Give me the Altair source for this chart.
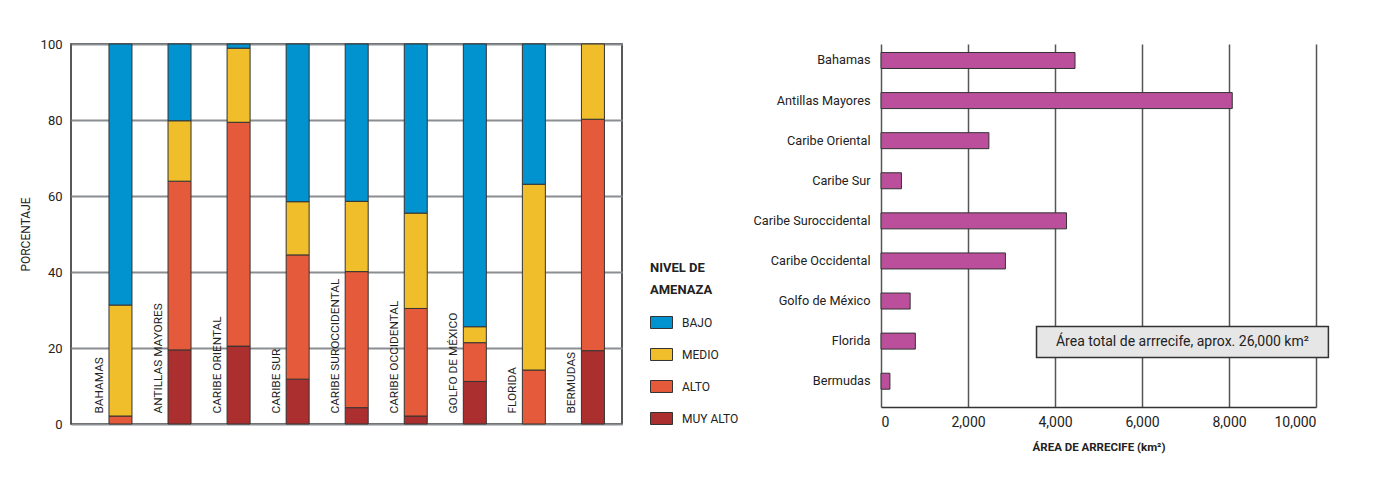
import altair as alt
import pandas as pd

# ---------------- data ----------------
regions_upper = ["BAHAMAS", "ANTILLAS MAYORES", "CARIBE ORIENTAL", "CARIBE SUR",
                 "CARIBE SUROCCIDENTAL", "CARIBE OCCIDENTAL", "GOLFO DE MÉXICO",
                 "FLORIDA", "BERMUDAS"]
muy_alto = [0, 19.5, 20.5, 11.8, 4.3, 2.1, 11.2, 0, 19.3]
alto = [2.1, 44.4, 58.9, 32.7, 35.8, 28.3, 10.2, 14.2, 60.9]
medio = [29.2, 15.9, 19.5, 14.0, 18.5, 25.1, 4.2, 48.9, 19.8]
bajo = [68.7, 20.2, 1.1, 41.5, 41.4, 44.5, 74.4, 36.9, 0]

levels = ["BAJO", "MEDIO", "ALTO", "MUY ALTO"]
level_colors = ["#0093cf", "#f0bd2b", "#e45a3a", "#ab2f2f"]

names = ["Bahamas", "Antillas Mayores", "Caribe Oriental", "Caribe Sur",
         "Caribe Suroccidental", "Caribe Occidental", "Golfo de México",
         "Florida", "Bermudas"]
areas = [4460, 8075, 2480, 470, 4265, 2860, 670, 790, 205]

x_ticks = [0, 2000, 4000, 6000, 8000, 10000]
y_ticks = [0, 20, 40, 60, 80, 100]
note = "Área total de arrrecife, aprox. 26,000 km²"

FONT = "Roboto"
TXT = "#222222"

# ---------------- left: stacked bars ----------------
rows = []
for i, r in enumerate(regions_upper):
    for lev, vals, o in [("MUY ALTO", muy_alto, 0), ("ALTO", alto, 1),
                         ("MEDIO", medio, 2), ("BAJO", bajo, 3)]:
        if vals[i] > 0:
            rows.append({"region": r, "nivel": lev, "pct": vals[i], "ord": o})
df_left = pd.DataFrame(rows)
df_lab = pd.DataFrame({"region": regions_upper})

x_left = alt.X("region:N", sort=regions_upper, axis=None,
               scale=alt.Scale(domain=regions_upper, paddingInner=0, paddingOuter=0.165))

bars_left = alt.Chart(df_left).mark_bar(
    width=23, xOffset=10.2, stroke="#333333", strokeWidth=1
).encode(
    x=x_left,
    y=alt.Y("pct:Q", stack="zero",
            scale=alt.Scale(domain=[0, 100], nice=False),
            axis=alt.Axis(values=y_ticks, title="PORCENTAJE", grid=True,
                          gridColor="#8a8d91", gridWidth=2, ticks=False, domain=False,
                          labelFont=FONT, labelFontSize=13, labelColor=TXT, labelPadding=9,
                          titleFont=FONT, titleFontSize=12, titleFontWeight="normal",
                          titleColor=TXT, titlePadding=8)),
    color=alt.Color("nivel:N", scale=alt.Scale(domain=levels, range=level_colors),
                    legend=alt.Legend(title=["NIVEL DE", "AMENAZA"], orient="none",
                                      legendX=579, legendY=218,
                                      titleFont=FONT, titleFontSize=13, titleFontWeight="bold",
                                      titleColor=TXT, titleLineHeight=22, titlePadding=14,
                                      labelFont=FONT, labelFontSize=12, labelColor=TXT,
                                      labelOffset=9,
                                      symbolType="M-1,-0.545H1V0.545H-1Z", symbolSize=484,
                                      symbolStrokeColor="#333333", symbolStrokeWidth=1,
                                      symbolOpacity=1, rowPadding=12)),
    order=alt.Order("ord:Q", sort="ascending"),
)

labels_left = alt.Chart(df_lab).mark_text(
    angle=270, align="left", baseline="middle", xOffset=-11.3, yOffset=-10.5,
    font=FONT, fontSize=11.8, color=TXT
).encode(
    x=x_left,
    y=alt.datum(0),
    text="region:N",
)

left = alt.layer(bars_left, labels_left).properties(
    width=551, height=380,
    view=alt.ViewBackground(stroke="#222222", strokeWidth=1.5),
)

# ---------------- right: horizontal bars ----------------
df_right = pd.DataFrame({"name": names, "area": areas})
df_note = pd.DataFrame({"name": ["Florida"], "x0": [3575], "x1": [10285],
                        "xm": [6929], "label": [note]})

y_scale = alt.Scale(domain=names, paddingInner=0, paddingOuter=0.0274)
x_scale = alt.Scale(domain=[0, 10000], nice=False)

bars_right = alt.Chart(df_right).mark_bar(
    height=16, yOffset=-4.65, color="#bb4f9b", stroke="#333333", strokeWidth=1
).encode(
    x=alt.X("area:Q", scale=x_scale,
            axis=alt.Axis(values=x_ticks, format=",.0f", title="ÁREA DE ARRECIFE (km²)",
                          grid=True, gridColor="#555555", gridWidth=1.5, ticks=False,
                          domain=True, domainColor="#333333", domainWidth=1.5,
                          labelFont=FONT, labelFontSize=14, labelColor=TXT, labelPadding=8,
                          titleFont=FONT, titleFontSize=11.5, titleFontWeight="bold",
                          titleColor=TXT, titlePadding=12)),
    y=alt.Y("name:N", sort=names, scale=y_scale,
            axis=alt.Axis(title=None, ticks=False, domain=False, grid=False,
                          labelFont=FONT, labelFontSize=12.7, labelColor=TXT,
                          labelPadding=11, labelOffset=-4.65)),
)

note_box = alt.Chart(df_note).mark_bar(
    height=31, yOffset=-3.8, color="#e6e6e6", stroke="#333333", strokeWidth=1.5
).encode(
    x=alt.X("x0:Q", scale=x_scale),
    x2="x1:Q",
    y=alt.Y("name:N", sort=names, scale=y_scale),
)

note_text = alt.Chart(df_note).mark_text(
    yOffset=-3.8, font=FONT, fontSize=14, color=TXT
).encode(
    x=alt.X("xm:Q", scale=x_scale),
    y=alt.Y("name:N", sort=names, scale=y_scale),
    text="label:N",
)

right = alt.layer(bars_right, note_box, note_text).properties(
    width=435, height=363,
    view=alt.ViewBackground(stroke=None),
)

chart = alt.hconcat(left, right, spacing=13).resolve_scale(
    color="independent"
).properties(
    padding={"left": 10, "top": 29, "right": 5, "bottom": 5}
).configure(font=FONT)

chart.save("out.html", embed_options={"renderer": "svg", "actions": False})
